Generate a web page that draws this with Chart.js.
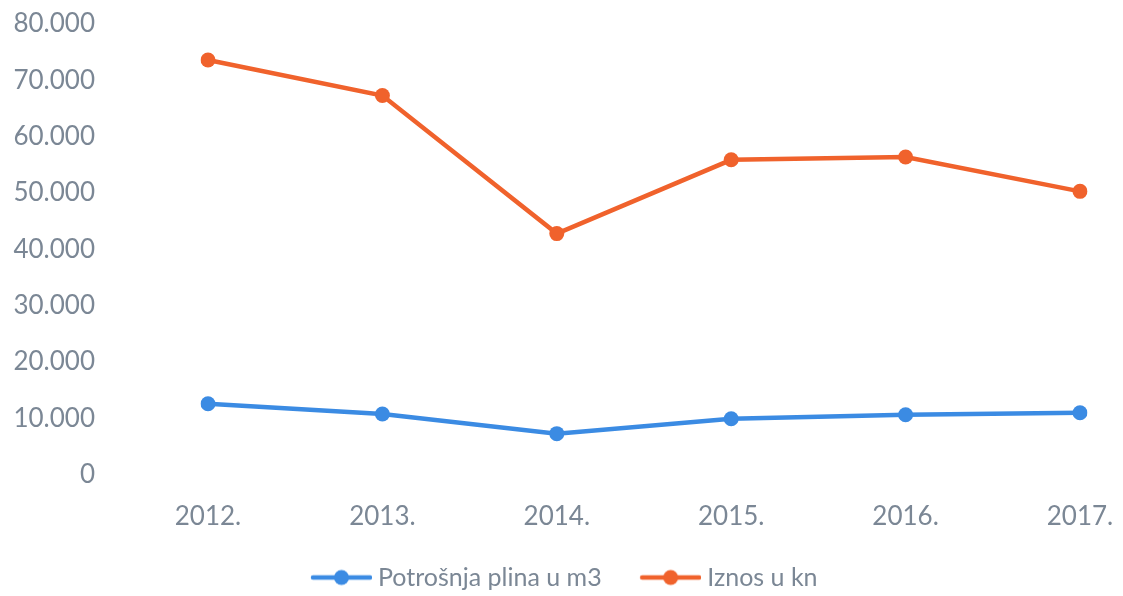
<!DOCTYPE html>
<html>
<head>
<meta charset="utf-8">
<script src="https://cdn.jsdelivr.net/npm/chart.js@4/dist/chart.umd.min.js"></script>
<style>
html,body{margin:0;padding:0;background:#fff;}
#wrap{width:1123px;height:596px;position:relative;}
</style>
</head>
<body>
<div id="wrap"><canvas id="c" width="1123" height="596"></canvas></div>
<script>
const categories = ['2012.', '2013.', '2014.', '2015.', '2016.', '2017.'];
const gasM3 = [12600, 10800, 7300, 9950, 10650, 11000];
const amountKn = [73600, 67300, 42800, 55900, 56400, 50300];
const seriesNames = ['Potrošnja plina u m3', 'Iznos u kn'];
const yTicks = [0, 10000, 20000, 30000, 40000, 50000, 60000, 70000, 80000];

const BLUE = '#3b8be3';
const ORANGE = '#f0622c';
const TEXT = '#7b8795';
const FONT = 'Lato, "Open Sans", sans-serif';

// legend icon: line with a dot, plus blank lead-in space (gap between items)
function legendIcon(color) {
  const c = document.createElement('canvas');
  c.width = 96; c.height = 18;
  const g = c.getContext('2d');
  g.strokeStyle = color; g.lineWidth = 4.5; g.lineCap = 'round';
  g.beginPath(); g.moveTo(37, 9); g.lineTo(94, 9); g.stroke();
  g.fillStyle = color;
  g.beginPath(); g.arc(65.5, 9, 7.5, 0, Math.PI * 2); g.fill();
  return c;
}
const icons = [legendIcon(BLUE), legendIcon(ORANGE)];

function fmt(v) {
  return String(v).replace(/\B(?=(\d{3})+(?!\d))/g, '.');
}

const shiftLegend = {
  id: 'shiftLegend',
  afterLayout(chart) {
    if (chart.legend) { chart.legend.left += 10; chart.legend.right += 10; }
  }
};

new Chart(document.getElementById('c'), {
  type: 'line',
  plugins: [shiftLegend],
  data: {
    labels: categories,
    datasets: [
      { label: seriesNames[0], data: gasM3, borderColor: BLUE, backgroundColor: BLUE,
        borderWidth: 4.5, pointRadius: 7.5, pointHoverRadius: 7.5, pointBorderWidth: 0, tension: 0 },
      { label: seriesNames[1], data: amountKn, borderColor: ORANGE, backgroundColor: ORANGE,
        borderWidth: 4.5, pointRadius: 7.5, pointHoverRadius: 7.5, pointBorderWidth: 0, tension: 0 }
    ]
  },
  options: {
    responsive: false,
    animation: false,
    layout: { padding: { left: 0, right: 43, top: 24, bottom: -4 } },
    plugins: {
      tooltip: { enabled: false },
      legend: {
        position: 'bottom',
        labels: {
          usePointStyle: true,
          pointStyleWidth: 83,
          padding: 10,
          color: TEXT,
          font: { family: FONT, size: 25 },
          generateLabels(chart) {
            return chart.data.datasets.map((ds, i) => ({
              text: ds.label, fillStyle: ds.borderColor, strokeStyle: ds.borderColor,
              lineWidth: 0, pointStyle: icons[i], hidden: false, datasetIndex: i, fontColor: TEXT
            }));
          }
        }
      }
    },
    scales: {
      x: {
        offset: false,
        grid: { display: false, drawTicks: false },
        border: { display: false },
        afterFit(scale) { scale.height -= 3; scale.paddingLeft = 0; scale.paddingRight = 0; },
        ticks: { color: TEXT, font: { family: FONT, size: 26 }, padding: 26, maxRotation: 0 }
      },
      y: {
        min: 0, max: 80000,
        afterBuildTicks(scale) { scale.ticks = yTicks.map(v => ({ value: v })); },
        afterFit(scale) { scale.width = 208; scale.paddingTop = 0; scale.paddingBottom = 0; },
        grid: { display: false, drawTicks: false },
        border: { display: false },
        ticks: { color: TEXT, font: { family: FONT, size: 26 }, padding: 113,
                 callback: v => fmt(v) }
      }
    }
  }
});
</script>
</body>
</html>
